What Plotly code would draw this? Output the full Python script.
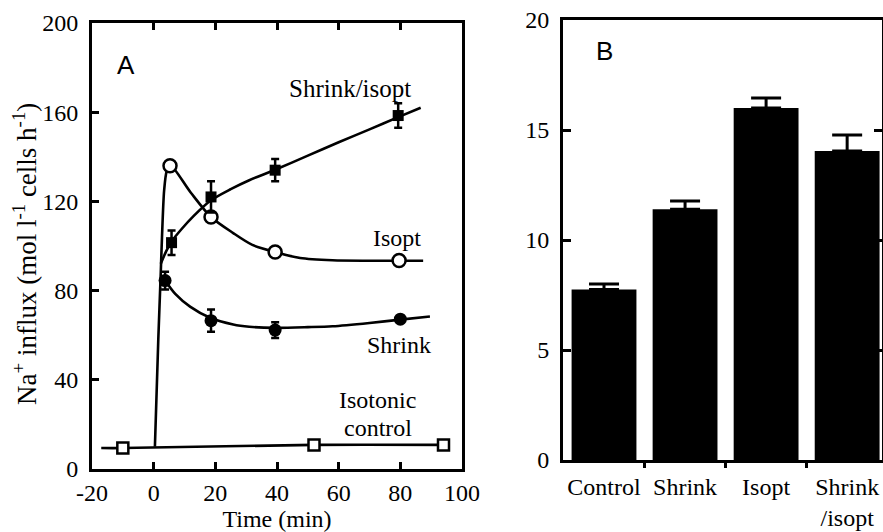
import plotly.graph_objects as go

# ---------------- Panel A: Na+ influx time course ----------------
# Isotonic control (open squares)
ctrl_t = [-10, 52, 94]
ctrl_v = [9.4, 10.8, 10.8]
ctrl_fit_t = [-17, -10, 52, 94]
ctrl_fit_v = [9.4, 9.4, 10.8, 10.8]

# Isopt (open circles)
isopt_t = [5.3, 18.6, 39.4, 79.6]
isopt_v = [136, 113, 97.3, 93.5]
isopt_fit_t = [0.4, 1.5, 2.3, 2.7, 3.4, 4.2, 5.3, 12, 18.6, 25.8, 32, 39.4, 47.5, 58, 70, 87.4]
isopt_fit_v = [10, 58, 88, 104, 125, 133.5, 136.3, 124, 113, 105.8, 100.5, 97.3, 94.6, 93.6, 93.4, 93.4]

# Shrink/isopt (filled squares, mean +/- s.e.m.)
shrisopt_t = [5.8, 18.6, 39.4, 79.3]
shrisopt_v = [101.5, 122, 134, 158.5]
shrisopt_err = [5.5, 7, 5, 5.5]
shrisopt_fit_t = [2.3, 4, 5.8, 9, 13, 18.6, 25, 31, 39.4, 50, 60, 70, 79.3, 86.6]
shrisopt_fit_v = [92, 97.5, 102, 107.5, 113.5, 120.5, 125.5, 129.5, 134.2, 140.5, 146.5, 152.3, 157.8, 162]

# Shrink (filled circles, mean +/- s.e.m.)
shrink_t = [3.7, 18.6, 39.4, 80]
shrink_v = [84.5, 66.5, 62.3, 67.2]
shrink_err = [4, 5, 3.5, 0]
shrink_fit_t = [3.7, 7, 11.8, 18.3, 25.8, 31, 39.4, 50, 58, 70, 80, 89.6]
shrink_fit_v = [84.5, 78.5, 72.8, 67.8, 64.8, 63.8, 63.3, 63.6, 64.0, 65.5, 67.0, 68.4]

x_ticks_a = [-20, 0, 20, 40, 60, 80, 100]
x_ticktext_a = ["-20", "0", "20", "40", "60", "80", "100"]
y_ticks_a = [0, 40, 80, 120, 160, 200]

# ---------------- Panel B: bar summary ----------------
groups = ["Control", "Shrink", "Isopt", "Shrink<br>/isopt"]
bar_vals = [7.75, 11.4, 16.0, 14.05]
bar_sem = [0.25, 0.37, 0.45, 0.72]
y_ticks_b = [0, 5, 10, 15, 20]

SERIF = "Liberation Serif"
SANS = "Liberation Sans"
FS = 24
LW = 2.6

fig = go.Figure()

def curve(t, v):
    fig.add_trace(go.Scatter(
        x=t, y=v, mode="lines", xaxis="x", yaxis="y",
        line=dict(color="black", width=LW, shape="spline", smoothing=0.8),
        hoverinfo="skip"))

curve(ctrl_fit_t, ctrl_fit_v)
curve(isopt_fit_t, isopt_fit_v)
curve(shrisopt_fit_t, shrisopt_fit_v)
curve(shrink_fit_t, shrink_fit_v)

# data points
fig.add_trace(go.Scatter(
    x=ctrl_t, y=ctrl_v, mode="markers", xaxis="x", yaxis="y",
    marker=dict(symbol="square", size=11, color="white", line=dict(color="black", width=2.5))))
fig.add_trace(go.Scatter(
    x=isopt_t, y=isopt_v, mode="markers", xaxis="x", yaxis="y",
    marker=dict(symbol="circle", size=13, color="white", line=dict(color="black", width=2.5))))
fig.add_trace(go.Scatter(
    x=shrisopt_t, y=shrisopt_v, mode="markers", xaxis="x", yaxis="y",
    error_y=dict(type="data", array=shrisopt_err, color="black", thickness=2.5, width=4),
    marker=dict(symbol="square", size=11, color="black")))
fig.add_trace(go.Scatter(
    x=shrink_t, y=shrink_v, mode="markers", xaxis="x", yaxis="y",
    error_y=dict(type="data", array=shrink_err, color="black", thickness=2.5, width=4),
    marker=dict(symbol="circle", size=13, color="black")))

# bars with upper s.e.m.
fig.add_trace(go.Bar(
    x=list(range(len(groups))), y=bar_vals, xaxis="x2", yaxis="y2",
    width=0.8, marker=dict(color="black", line=dict(width=0)),
    error_y=dict(type="data", array=bar_sem, arrayminus=[0] * len(groups), symmetric=False,
                 color="black", thickness=3, width=15)))
# invisible trace carrying the category labels
fig.add_trace(go.Scatter(x=list(range(len(groups))), y=[0] * len(groups), mode="markers",
                         marker=dict(opacity=0), xaxis="x3", yaxis="y2", hoverinfo="skip"))

W, H = 883, 532
axA_x = [92 / W, 462 / W]
axA_y = [(H - 469) / H, (H - 23) / H]
axB_x = [563 / W, 882 / W]
axB_y = [(H - 460) / H, (H - 20) / H]
b_range = [-0.506, 3.43]

tickfont = dict(family=SERIF, size=FS, color="black")

common = dict(showgrid=False, zeroline=False, automargin=False)

fig.update_layout(
    width=W, height=H, margin=dict(l=0, r=0, t=0, b=0, autoexpand=False),
    paper_bgcolor="white", plot_bgcolor="white", showlegend=False,
    xaxis=dict(domain=axA_x, anchor="y", range=[-20, 100], tickvals=x_ticks_a,
               ticktext=x_ticktext_a,
               showline=True, linecolor="black", linewidth=3, mirror="ticks",
               ticks="inside", ticklen=7, tickwidth=2.5, tickcolor="black",
               tickfont=tickfont, ticklabelstandoff=0,
               title=dict(text="Time (min)", font=tickfont, standoff=24), **common),
    yaxis=dict(domain=axA_y, anchor="x", range=[0, 200], tickvals=y_ticks_a,
               showline=True, linecolor="black", linewidth=3, mirror=True,
               ticks="inside", ticklen=7, tickwidth=2.5, tickcolor="black",
               tickfont=tickfont, ticklabelstandoff=6, **common),
    xaxis2=dict(domain=axB_x, anchor="y2", range=b_range, tickvals=[0.5, 1.5, 2.5],
                ticktext=["", "", ""], showline=True, linecolor="black", linewidth=3,
                mirror=True, ticks="outside", ticklen=5, tickwidth=2.5, tickcolor="black",
                **common),
    xaxis3=dict(overlaying="x2", anchor="y2", range=b_range, tickvals=list(range(len(groups))),
                ticktext=groups, ticks="", showline=False,
                tickfont=tickfont, ticklabelstandoff=10, **common),
    yaxis2=dict(domain=axB_y, anchor="x2", range=[0, 20], tickvals=y_ticks_b,
                showline=True, linecolor="black", linewidth=3, mirror="ticks",
                ticks="inside", ticklen=8, tickwidth=2.5, tickcolor="black",
                tickfont=tickfont, ticklabelstandoff=6, **common),
)

ann = [
    dict(text="A", x=-9, y=181, xref="x", yref="y", showarrow=False,
         font=dict(family=SANS, size=26, color="black")),
    dict(text="B", x=0.0, y=18.6, xref="x2", yref="y2", showarrow=False,
         font=dict(family=SANS, size=26, color="black")),
    dict(text="Shrink/isopt", x=63.7, y=170.5, xref="x", yref="y", showarrow=False,
         font=dict(family=SERIF, size=25, color="black")),
    dict(text="Isopt", x=79, y=103.5, xref="x", yref="y", showarrow=False, font=tickfont),
    dict(text="Shrink", x=79.6, y=55.5, xref="x", yref="y", showarrow=False, font=tickfont),
    dict(text="Isotonic", x=72.6, y=30.9, xref="x", yref="y", showarrow=False, font=tickfont),
    dict(text="control", x=72.8, y=18.4, xref="x", yref="y", showarrow=False, font=tickfont),
    dict(text="Na<sup>+</sup> influx (mol l<sup>-1</sup> cells h<sup>-1</sup>)",
         x=25 / W, y=(H - 254) / H, xref="paper", yref="paper", textangle=-90,
         xanchor="center", yanchor="middle",
         showarrow=False, font=dict(family=SERIF, size=27, color="black")),
]
fig.update_layout(annotations=ann)

fig.write_html("out.html")
